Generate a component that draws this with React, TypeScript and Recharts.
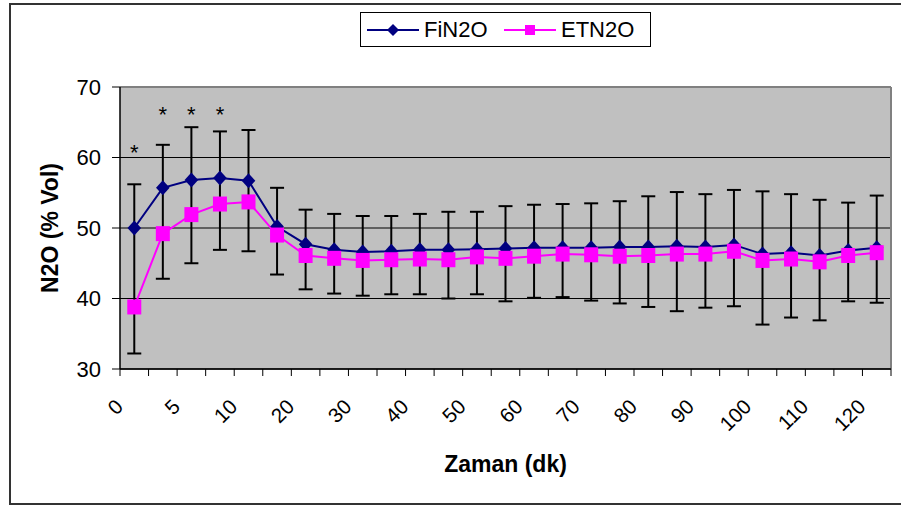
import React from 'react';
import { LineChart, Line, XAxis, YAxis, CartesianGrid, ErrorBar, ReferenceLine, LabelList } from 'recharts';

const times = ['0', '3', '5', '7', '10', '15', '20', '25', '30', '35', '40', '45', '50', '55', '60', '65', '70', '75', '80', '85', '90', '95', '100', '105', '110', '115', '120'];
const fiN2O = [50.0, 55.7, 56.8, 57.1, 56.7, 50.2, 47.7, 46.9, 46.6, 46.7, 46.9, 46.9, 47.0, 47.1, 47.2, 47.2, 47.2, 47.3, 47.3, 47.4, 47.3, 47.6, 46.3, 46.5, 46.1, 46.8, 47.2];
const fiSd = [6.2, 6.1, 7.5, 6.6, 7.2, 5.5, 4.9, 5.1, 5.1, 5.0, 5.1, 5.4, 5.3, 6.0, 6.1, 6.2, 6.3, 6.5, 7.2, 7.7, 7.5, 7.8, 8.9, 8.3, 7.9, 6.8, 7.4];
const etN2O = [38.8, 49.2, 51.9, 53.4, 53.7, 49.0, 46.1, 45.7, 45.4, 45.5, 45.6, 45.5, 45.9, 45.7, 46.0, 46.3, 46.2, 46.0, 46.1, 46.3, 46.3, 46.7, 45.4, 45.6, 45.2, 46.1, 46.5];
const etSd = [6.6, 6.4, 6.9, 6.5, 7.0, 5.6, 4.8, 5.0, 5.0, 4.9, 5.0, 5.5, 5.3, 6.1, 5.9, 6.1, 6.5, 6.7, 7.3, 8.1, 7.6, 7.8, 9.1, 8.3, 8.3, 6.5, 7.1];
const starY = [61.4, 66.8, 66.8, 66.8];
const yTicks = [30, 40, 50, 60, 70];

const FONT = "'Liberation Sans', Arial, sans-serif";

const data = times.map((t, i) => ({
  i,
  t,
  fi: fiN2O[i],
  et: etN2O[i],
  bar: [fiN2O[i] - (etN2O[i] - etSd[i]), fiSd[i]],
  star: i < starY.length ? starY[i] : null,
}));

const xTicks = times.map((_, i) => i - 0.5).concat([times.length - 0.5]);

const XTick = (props: any) => {
  const { x, y, payload } = props;
  const c = Math.round(payload.value + 0.5);
  if (c % 2 !== 0 || c >= times.length) return <g />;
  const px = x + 4.3;
  const py = y + 32;
  return (
    <text x={px} y={py} textAnchor="end" transform={`rotate(-45 ${px} ${py})`} fontSize={20.5} fontFamily={FONT} fill="#000">
      {times[c]}
    </text>
  );
};

const Diamond = (props: any) => {
  const { cx, cy } = props;
  if (cx == null || cy == null) return <g />;
  return <polygon points={`${cx},${cy - 7.5} ${cx + 6.8},${cy} ${cx},${cy + 7.5} ${cx - 6.8},${cy}`} fill="#000080" />;
};

const Square = (props: any) => {
  const { cx, cy } = props;
  if (cx == null || cy == null) return <g />;
  return <rect x={cx - 7} y={cy - 7.5} width={14} height={15} fill="#FF00FF" />;
};

const StarLabel = (props: any) => {
  const { x, y, value } = props;
  if (value == null || x == null || y == null) return <g />;
  return (
    <text x={x} y={y + 12} textAnchor="middle" fontSize={22} fontFamily={FONT} fill="#000">*</text>
  );
};

const YTitle = (props: any) => {
  const vb = props.viewBox || { x: 0, y: 87, width: 120, height: 282 };
  const cx = vb.x + 58;
  const cy = vb.y + vb.height / 2;
  return (
    <text x={cx} y={cy} textAnchor="middle" transform={`rotate(-90 ${cx} ${cy})`} fontSize={23} fontWeight="bold" fontFamily={FONT} fill="#000">
      N2O (% Vol)
    </text>
  );
};

const XTitle = (props: any) => {
  const vb = props.viewBox || { x: 120, y: 369, width: 771, height: 40 };
  const cx = vb.x + vb.width / 2;
  return (
    <text x={cx} y={vb.y + 103} textAnchor="middle" fontSize={23} fontWeight="bold" fontFamily={FONT} fill="#000">
      Zaman (dk)
    </text>
  );
};

const LegendBox = () => (
  <div style={{ position: 'absolute', left: 360, top: 12, width: 291, height: 35 }}>
    <svg width={291} height={35} style={{ display: 'block' }}>
      <rect x={0.5} y={0.5} width={290} height={34} fill="#fff" stroke="#000" strokeWidth={1} />
      <line x1={7} x2={59} y1={18} y2={18} stroke="#000080" strokeWidth={2} />
      <polygon points="33,12 39,18 33,24 27,18" fill="#000080" />
      <text x={64} y={25} fontSize={22} fontFamily={FONT} fill="#000">FiN2O</text>
      <line x1={144} x2={196} y1={18} y2={18} stroke="#FF00FF" strokeWidth={2} />
      <rect x={165} y={13} width={10} height={10} fill="#FF00FF" />
      <text x={201} y={25} fontSize={22} fontFamily={FONT} fill="#000">ETN2O</text>
    </svg>
  </div>
);

export default function App() {
  return (
    <div style={{ position: 'relative', width: 901, height: 506, overflow: 'hidden', background: '#fff' }}>
      <style>{'html,body{margin:0;padding:0;overflow:hidden;}'}</style>
      <svg width={901} height={506} style={{ position: 'absolute', left: 0, top: 0, display: 'block' }}>
        <rect x={10} y={4} width={900} height={500} fill="#fff" stroke="#333" strokeWidth={2} />
      </svg>
      <div style={{ position: 'absolute', left: 0, top: 0 }}>
        <LineChart
          width={901}
          height={506}
          data={data}
          margin={{ top: 87, right: 10, left: 0, bottom: 97 }}
        >
          <CartesianGrid horizontal vertical={false} stroke="#000" strokeWidth={1} fill="#C0C0C0" fillOpacity={1} />
          <XAxis
            dataKey="i"
            type="number"
            domain={[-0.5, times.length - 0.5]}
            ticks={xTicks}
            interval={0}
            height={40}
            tickSize={7}
            tickMargin={0}
            axisLine={{ stroke: '#000', strokeWidth: 1.5 }}
            tickLine={{ stroke: '#000', strokeWidth: 1 }}
            tick={XTick}
            allowDataOverflow
            label={XTitle}
          />
          <YAxis
            type="number"
            domain={[30, 70]}
            ticks={yTicks}
            interval={0}
            width={120}
            tickSize={8}
            tickMargin={11}
            axisLine={{ stroke: '#000', strokeWidth: 1.5 }}
            tickLine={{ stroke: '#000', strokeWidth: 1 }}
            tick={{ fontSize: 22, fill: '#000', fontFamily: FONT }}
            allowDataOverflow
            label={YTitle}
          />
          <ReferenceLine y={70} stroke="#808080" strokeWidth={2} />
          <ReferenceLine x={times.length - 0.5} stroke="#808080" strokeWidth={2} />
          <Line
            dataKey="fi"
            type="linear"
            stroke="#000080"
            strokeWidth={2}
            dot={Diamond}
            activeDot={false}
            isAnimationActive={false}
          >
            <ErrorBar dataKey="bar" direction="y" width={7} stroke="#000" strokeWidth={2} />
          </Line>
          <Line
            dataKey="et"
            type="linear"
            stroke="#FF00FF"
            strokeWidth={2}
            dot={Square}
            activeDot={false}
            isAnimationActive={false}
          />
          <Line
            dataKey="star"
            type="linear"
            stroke="none"
            dot={false}
            activeDot={false}
            isAnimationActive={false}
          >
            <LabelList dataKey="star" content={StarLabel} />
          </Line>
        </LineChart>
      </div>
      <LegendBox />
    </div>
  );
}
